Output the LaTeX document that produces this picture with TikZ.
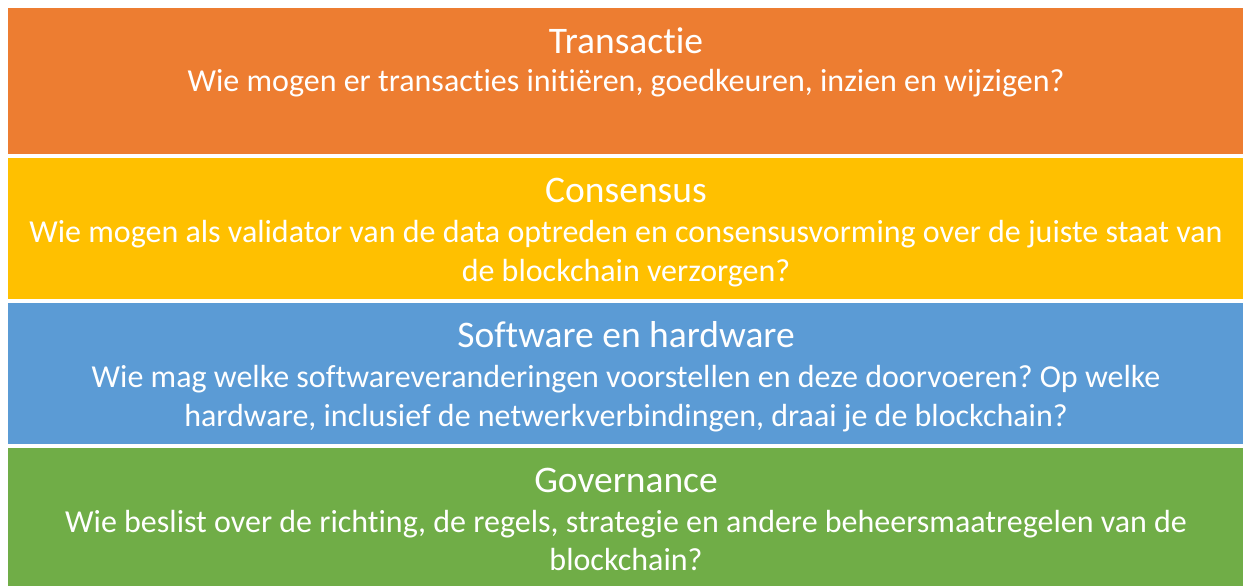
\documentclass[tikz,border=0pt]{standalone}
\usepackage{fontspec}
\setmainfont[Ligatures={NoCommon}]{Carlito}
\frenchspacing
\definecolor{cOrange}{HTML}{ED7D31}
\definecolor{cYellow}{HTML}{FFC000}
\definecolor{cBlue}{HTML}{5B9BD5}
\definecolor{cGreen}{HTML}{70AD47}
\begin{document}
\begin{tikzpicture}[x=1pt,y=-1pt,
  band/.style={fill=#1,draw=none},
  ttl/.style={anchor=base,text=white,inner sep=0pt,font=\fontsize{37.5}{45}\selectfont},
  bdy/.style={anchor=base,text=white,inner sep=0pt,font=\fontsize{32}{39}\selectfont}]
\useasboundingbox (0,0) rectangle (1243,586);
\fill[white] (0,0) rectangle (1243,586);
% bands
\path[band=cOrange] (8,8) rectangle (1243,154) coordinate (bo);
\path[band=cYellow] (8,158) rectangle (1243,299) coordinate (by);
\path[band=cBlue] (8,303) rectangle (1243,444) coordinate (bb);
\path[band=cGreen] (8,448) rectangle (1243,586) coordinate (bg);
% Transactie
\node[ttl] (t1) at (626,54) {Transactie};
\node[bdy] (t1a) at (626,92) {Wie mogen er transacties initiëren, goedkeuren, inzien en wijzigen?};
% Consensus
\node[ttl] (t2) at (626,202) {Consensus};
\node[bdy] (t2a) at (626,242) {Wie mogen als validator van de data optreden en consensusvorming over de juiste staat van};
\node[bdy] (t2b) at (626,281) {de blockchain verzorgen?};
% Software en hardware
\node[ttl] (t3) at (626,347) {Software en hardware};
\node[bdy] (t3a) at (626,387) {Wie mag welke softwareveranderingen voorstellen en deze doorvoeren? Op welke};
\node[bdy] (t3b) at (626,426) {hardware, inclusief de netwerkverbindingen, draai je de blockchain?};
% Governance
\node[ttl] (t4) at (626,492) {Governance};
\node[bdy] (t4a) at (626,532) {Wie beslist over de richting, de regels, strategie en andere beheersmaatregelen van de};
\node[bdy] (t4b) at (626,570) {blockchain?};
\end{tikzpicture}
\end{document}
